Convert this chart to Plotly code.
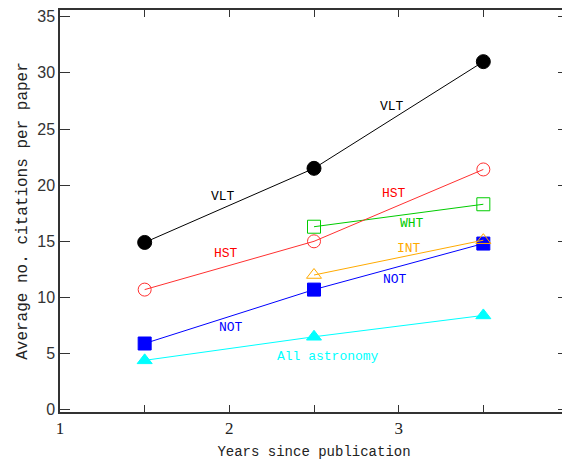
import plotly.graph_objects as go

years = [1.5, 2.5, 3.5]
vlt = [14.9, 21.5, 31.0]
hst = [10.7, 15.0, 21.4]
wht_years = [2.5, 3.5]
wht = [16.3, 18.3]
int_years = [2.5, 3.5]
int_vals = [12.0, 15.1]
not_vals = [5.9, 10.7, 14.8]
all_astro = [4.4, 6.5, 8.4]

x_tickvals = [1, 1.5, 2, 2.5, 3, 3.5, 4]
x_ticktext = ["1", "", "2", "", "3", "", "4"]
y_tickvals = [0, 5, 10, 15, 20, 25, 30, 35]

labels = [
    ("VLT", 1.96, 19.0, "black"),
    ("VLT", 2.96, 27.0, "black"),
    ("HST", 1.98, 13.9, "red"),
    ("HST", 2.97, 19.3, "red"),
    ("WHT", 3.08, 16.6, "#00cc00"),
    ("INT", 3.06, 14.4, "#ffaa00"),
    ("NOT", 2.98, 11.6, "blue"),
    ("NOT", 2.01, 7.3, "blue"),
    ("All astronomy", 2.58, 4.7, "cyan"),
]

fig = go.Figure()

def add(x, y, color, symbol, size):
    fig.add_trace(go.Scatter(
        x=x, y=y, mode="lines+markers",
        line=dict(color=color, width=1),
        marker=dict(symbol=symbol, size=size, color=color,
                    line=dict(color=color, width=1)),
        showlegend=False, cliponaxis=False))

add(years, all_astro, "cyan", "triangle-up", 13)
add(years, not_vals, "blue", "square", 13)
add(int_years, int_vals, "#ffaa00", "triangle-up-open", 13)
add(wht_years, wht, "#00cc00", "square-open", 13)
add(years, hst, "#ff3030", "circle-open", 13)
add(years, vlt, "black", "circle", 14)

for text, x, y, color in labels:
    fig.add_annotation(x=x, y=y, text=text, showarrow=False,
                       font=dict(family="Liberation Mono", size=13, color=color))

axis_common = dict(showline=True, linecolor="#333333", linewidth=1.5, mirror="ticks",
                   ticks="inside", tickcolor="#333333", showgrid=False, zeroline=False,
                   automargin=False)

# the page body has an 8px default margin, so the figure is 8px smaller than the window
fig.update_layout(
    width=562, height=456,
    margin=dict(l=52, r=2, t=2, b=52, autoexpand=False),
    paper_bgcolor="white", plot_bgcolor="white",
    xaxis=dict(range=[1, 4], tickvals=x_tickvals, ticktext=x_ticktext, ticklen=7,
               tickfont=dict(family="Liberation Serif", size=17, color="#222222"),
               title=dict(text="Years since publication", standoff=9,
                          font=dict(family="Liberation Mono", size=14, color="#222222")),
               **axis_common),
    yaxis=dict(range=[-0.2, 35.6], tickvals=y_tickvals, ticklen=10,
               tickfont=dict(family="Liberation Sans", size=16, color="#333333"),
               title=dict(text="Average no. citations per paper", standoff=6,
                          font=dict(family="Liberation Mono", size=16, color="#222222")),
               **axis_common),
)

fig.write_html("out.html")
